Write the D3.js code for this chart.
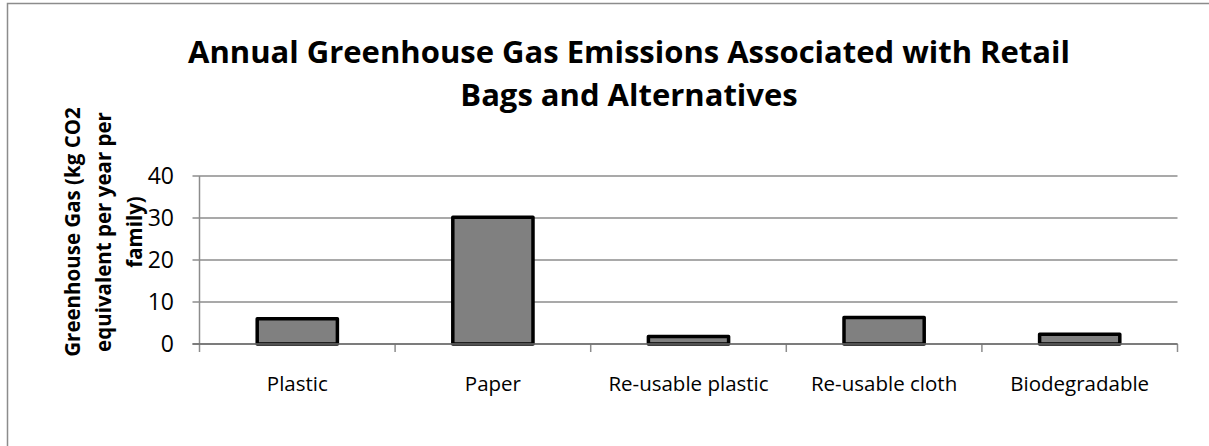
<!DOCTYPE html>
<html>
<head>
<meta charset="utf-8">
<script src="https://cdn.jsdelivr.net/npm/d3@7"></script>
<style>
  html, body { margin: 0; padding: 0; background: #fff; overflow: hidden; }
  svg { display: block; }
  text { font-family: "Open Sans", "Noto Sans", sans-serif; }
</style>
</head>
<body>
<div class="chart"></div>
<script>
// data
var categories = ['Plastic', 'Paper', 'Re-usable plastic', 'Re-usable cloth', 'Biodegradable'];
var emissions = [6.0, 30.2, 1.8, 6.3, 2.3];
var yTicks = [0, 10, 20, 30, 40];
var titleLines = ['Annual Greenhouse Gas Emissions Associated with Retail', 'Bags and Alternatives'];
var yTitleLines = ['Greenhouse Gas (kg CO2', 'equivalent per year per', 'family)'];

var width = 1209;
var height = 446;
var plot = { left: 199.5, right: 1177.5, top: 176, bottom: 344 };
var gray = '#8c8c8c';

var svg = d3.select('.chart').append('svg')
    .attr('width', width)
    .attr('height', height);

// chart area border: only the top and left edges fall inside the picture
svg.append('path')
    .attr('d', 'M7.5,' + height + 'V3.5H' + width)
    .style('fill', 'none')
    .style('stroke', gray)
    .style('stroke-width', 1.5);

var x = d3.scaleBand()
    .domain(categories)
    .range([plot.left, plot.right])
    .padding(0);

var y = d3.scaleLinear()
    .domain([0, 40])
    .range([plot.bottom, plot.top]);

// gridlines + y ticks
svg.selectAll('.grid')
    .data(yTicks)
  .enter().append('line')
    .attr('class', 'grid')
    .attr('x1', plot.left - 7)
    .attr('x2', plot.right)
    .attr('y1', function (d) { return y(d); })
    .attr('y2', function (d) { return y(d); })
    .style('stroke', gray)
    .style('stroke-width', 1.5);

svg.selectAll('.ylab')
    .data(yTicks)
  .enter().append('text')
    .attr('class', 'ylab')
    .attr('x', 174)
    .attr('y', function (d) { return y(d); })
    .attr('dy', '0.36em')
    .attr('text-anchor', 'end')
    .style('font-size', '23px')
    .style('fill', '#000')
    .text(function (d) { return d; });

// y axis line
svg.append('line')
    .attr('x1', plot.left).attr('x2', plot.left)
    .attr('y1', plot.top).attr('y2', plot.bottom + 8)
    .style('stroke', gray)
    .style('stroke-width', 1.5);

// category ticks at band edges
var edges = categories.map(function (c) { return x(c); }).concat([plot.right]);
svg.selectAll('.xtick')
    .data(edges.slice(1))
  .enter().append('line')
    .attr('class', 'xtick')
    .attr('x1', function (d) { return d; })
    .attr('x2', function (d) { return d; })
    .attr('y1', plot.bottom)
    .attr('y2', plot.bottom + 8)
    .style('stroke', gray)
    .style('stroke-width', 1.5);

// bars
var barW = x.bandwidth() * 0.41;
svg.selectAll('.bar')
    .data(emissions)
  .enter().append('rect')
    .attr('class', 'bar')
    .attr('x', function (d, i) { return x(categories[i]) + (x.bandwidth() - barW) / 2; })
    .attr('y', function (d) { return y(d); })
    .attr('width', barW)
    .attr('height', function (d) { return y(0) - y(d); })
    .style('fill', '#808080')
    .style('stroke', '#000')
    .style('stroke-width', 3.5)
    .style('stroke-linejoin', 'round');

// redraw baseline over bars
svg.append('line')
    .attr('x1', plot.left - 7).attr('x2', plot.right)
    .attr('y1', y(0)).attr('y2', y(0))
    .style('stroke', '#6e6e6e')
    .style('stroke-width', 1.5);

// category labels
svg.selectAll('.xlab')
    .data(categories)
  .enter().append('text')
    .attr('class', 'xlab')
    .attr('x', function (d) { return x(d) + x.bandwidth() / 2; })
    .attr('y', 391)
    .attr('text-anchor', 'middle')
    .style('font-size', '20.5px')
    .style('fill', '#000')
    .text(function (d) { return d; });

// title
svg.selectAll('.title')
    .data(titleLines)
  .enter().append('text')
    .attr('class', 'title')
    .attr('x', 629)
    .attr('y', function (d, i) { return 63 + i * 43; })
    .attr('text-anchor', 'middle')
    .style('font-size', '31px')
    .style('font-weight', 'bold')
    .style('fill', '#000')
    .text(function (d) { return d; });

// y axis title, three wrapped lines centred on the same point
var yTitleX = [80, 111, 142];
svg.selectAll('.ytitle')
    .data(yTitleLines)
  .enter().append('text')
    .attr('class', 'ytitle')
    .attr('transform', function (d, i) { return 'translate(' + yTitleX[i] + ',232) rotate(-90)'; })
    .attr('text-anchor', 'middle')
    .style('font-size', '20.5px')
    .style('font-weight', 'bold')
    .style('fill', '#000')
    .text(function (d) { return d; });
</script>
</body>
</html>
